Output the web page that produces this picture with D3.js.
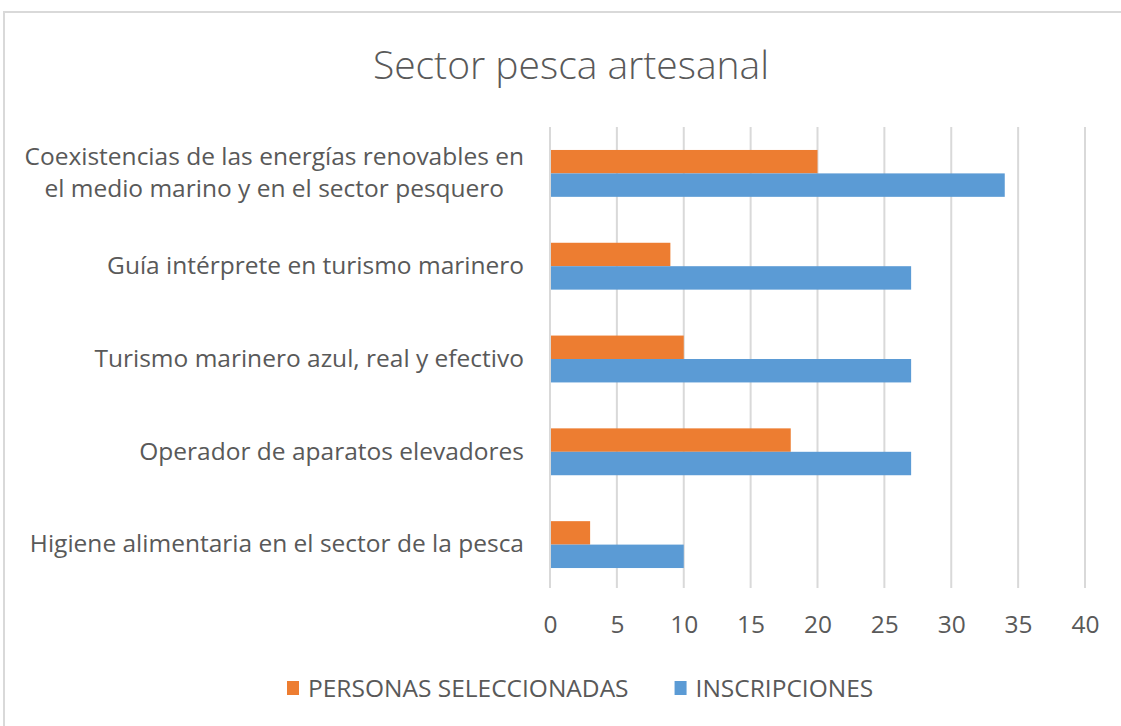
<!DOCTYPE html>
<html>
<head>
<meta charset="utf-8">
<script src="https://cdnjs.cloudflare.com/ajax/libs/d3/7.8.5/d3.min.js"></script>
<style>
  body { margin: 0; background: #fff; }
  svg { display: block; font-family: "Open Sans", sans-serif; }
</style>
</head>
<body>
<svg id="chart" width="1121" height="726"></svg>
<script>
// datos
var categorias = [
    "Coexistencias de las energías renovables en el medio marino y en el sector pesquero",
    "Guía intérprete en turismo marinero",
    "Turismo marinero azul, real y efectivo",
    "Operador de aparatos elevadores",
    "Higiene alimentaria en el sector de la pesca"
];
var series = ["PERSONAS SELECCIONADAS", "INSCRIPCIONES"];
var seleccionadas = [20, 9, 10, 18, 3];
var inscripciones = [34, 27, 27, 27, 10];
var ticksX = [0, 5, 10, 15, 20, 25, 30, 35, 40];
var colores = ["#ED7D31", "#5B9BD5"];

var svg = d3.select("svg#chart"),
    margin = {top: 127, right: 36, bottom: 135, left: 550},
    width = +svg.attr("width") - margin.left - margin.right,
    height = +svg.attr("height") - margin.top - margin.bottom;

var textoGris = "#595959";
var fuente = "'Open Sans', sans-serif";
var tamLetra = 24.5;

// borde del area del grafico
svg.append("rect")
    .attr("x", 4).attr("y", 12)
    .attr("width", 1200).attr("height", 800)
    .attr("fill", "none")
    .attr("stroke", "#d9d9d9")
    .attr("stroke-width", 2);

svg.append("text")
    .attr("x", 571)
    .attr("y", 79)
    .attr("text-anchor", "middle")
    .attr("font-size", 39)
    .attr("font-weight", 300)
    .attr("fill", textoGris)
    .text("Sector pesca artesanal");

var g = svg.append("g")
    .attr("transform", "translate(" + margin.left + "," + margin.top + ")");

var x = d3.scaleLinear()
    .domain([ticksX[0], ticksX[ticksX.length - 1]])
    .range([0, width]);

var y = d3.scaleBand()
    .domain(categorias)
    .range([0, height]);

var ySerie = d3.scaleBand()
    .domain(series)
    .range([0, y.bandwidth()])
    .paddingOuter(0.98);

// lineas de cuadricula
g.selectAll(".grid")
    .data(ticksX)
    .enter()
    .append("line")
    .attr("class", "grid")
    .attr("x1", function (d) { return x(d); })
    .attr("x2", function (d) { return x(d); })
    .attr("y1", 0)
    .attr("y2", height - 3)
    .attr("stroke", "#d9d9d9")
    .attr("stroke-width", 2);

var ejeX = g.append("g")
    .attr("transform", "translate(0," + height + ")")
    .call(d3.axisBottom(x).tickValues(ticksX).tickSize(0).tickPadding(25));
ejeX.select(".domain").remove();
ejeX.selectAll("text")
    .attr("font-size", tamLetra)
    .attr("font-family", fuente)
    .attr("fill", textoGris);

var ejeY = g.append("g")
    .call(d3.axisLeft(y).tickSize(0).tickPadding(26));
ejeY.select(".domain").remove();
ejeY.selectAll("text")
    .attr("font-size", tamLetra)
    .attr("font-family", fuente)
    .attr("fill", textoGris)
    .each(function (d) {
        var t = d3.select(this);
        var palabras = d.split(" ");
        var lineas = [], actual = [];
        t.text(null);
        var prueba = t.append("tspan");
        palabras.forEach(function (p) {
            prueba.text(actual.concat([p]).join(" "));
            if (prueba.node().getComputedTextLength() > 505 && actual.length) {
                lineas.push(actual.join(" "));
                actual = [p];
            } else {
                actual.push(p);
            }
        });
        lineas.push(actual.join(" "));
        prueba.remove();
        if (lineas.length == 1) {
            t.text(d);
            return;
        }
        var maxW = 0;
        lineas.forEach(function (l) {
            var s = t.append("tspan").text(l);
            maxW = Math.max(maxW, s.node().getComputedTextLength());
            s.remove();
        });
        var cx = -26 - maxW / 2;
        t.attr("text-anchor", "middle").attr("x", cx);
        lineas.forEach(function (l, i) {
            t.append("tspan")
                .attr("x", cx)
                .attr("dy", i == 0 ? (0.32 - 0.65 * (lineas.length - 1)) + "em" : "1.3em")
                .text(l);
        });
    });

// barras
var datos = categorias.map(function (c, i) {
    return {categoria: c, valores: [seleccionadas[i], inscripciones[i]]};
});

var grupos = g.selectAll(".grupo")
    .data(datos)
    .enter()
    .append("g")
    .attr("class", "grupo")
    .attr("transform", function (d) { return "translate(0," + y(d.categoria) + ")"; });

grupos.selectAll("rect")
    .data(function (d) {
        return series.map(function (s, i) { return {serie: s, valor: d.valores[i], color: colores[i]}; });
    })
    .enter()
    .append("rect")
    .attr("x", x(0) + 1)
    .attr("y", function (d) { return ySerie(d.serie); })
    .attr("width", function (d) { return x(d.valor) - x(0) - 1; })
    .attr("height", ySerie.bandwidth())
    .attr("fill", function (d) { return d.color; });

// leyenda
var leyenda = svg.append("g").attr("transform", "translate(0,688)");
var posX = 287;
series.forEach(function (s, i) {
    var item = leyenda.append("g").attr("transform", "translate(" + posX + ",0)");
    item.append("rect")
        .attr("x", 0).attr("y", -7)
        .attr("width", 12).attr("height", 14)
        .attr("fill", colores[i]);
    var txt = item.append("text")
        .attr("x", 21)
        .attr("y", 0)
        .attr("dy", "0.35em")
        .attr("font-size", tamLetra)
        .attr("fill", textoGris)
        .text(s);
    posX += 21 + txt.node().getComputedTextLength() + 46;
});
</script>
</body>
</html>
